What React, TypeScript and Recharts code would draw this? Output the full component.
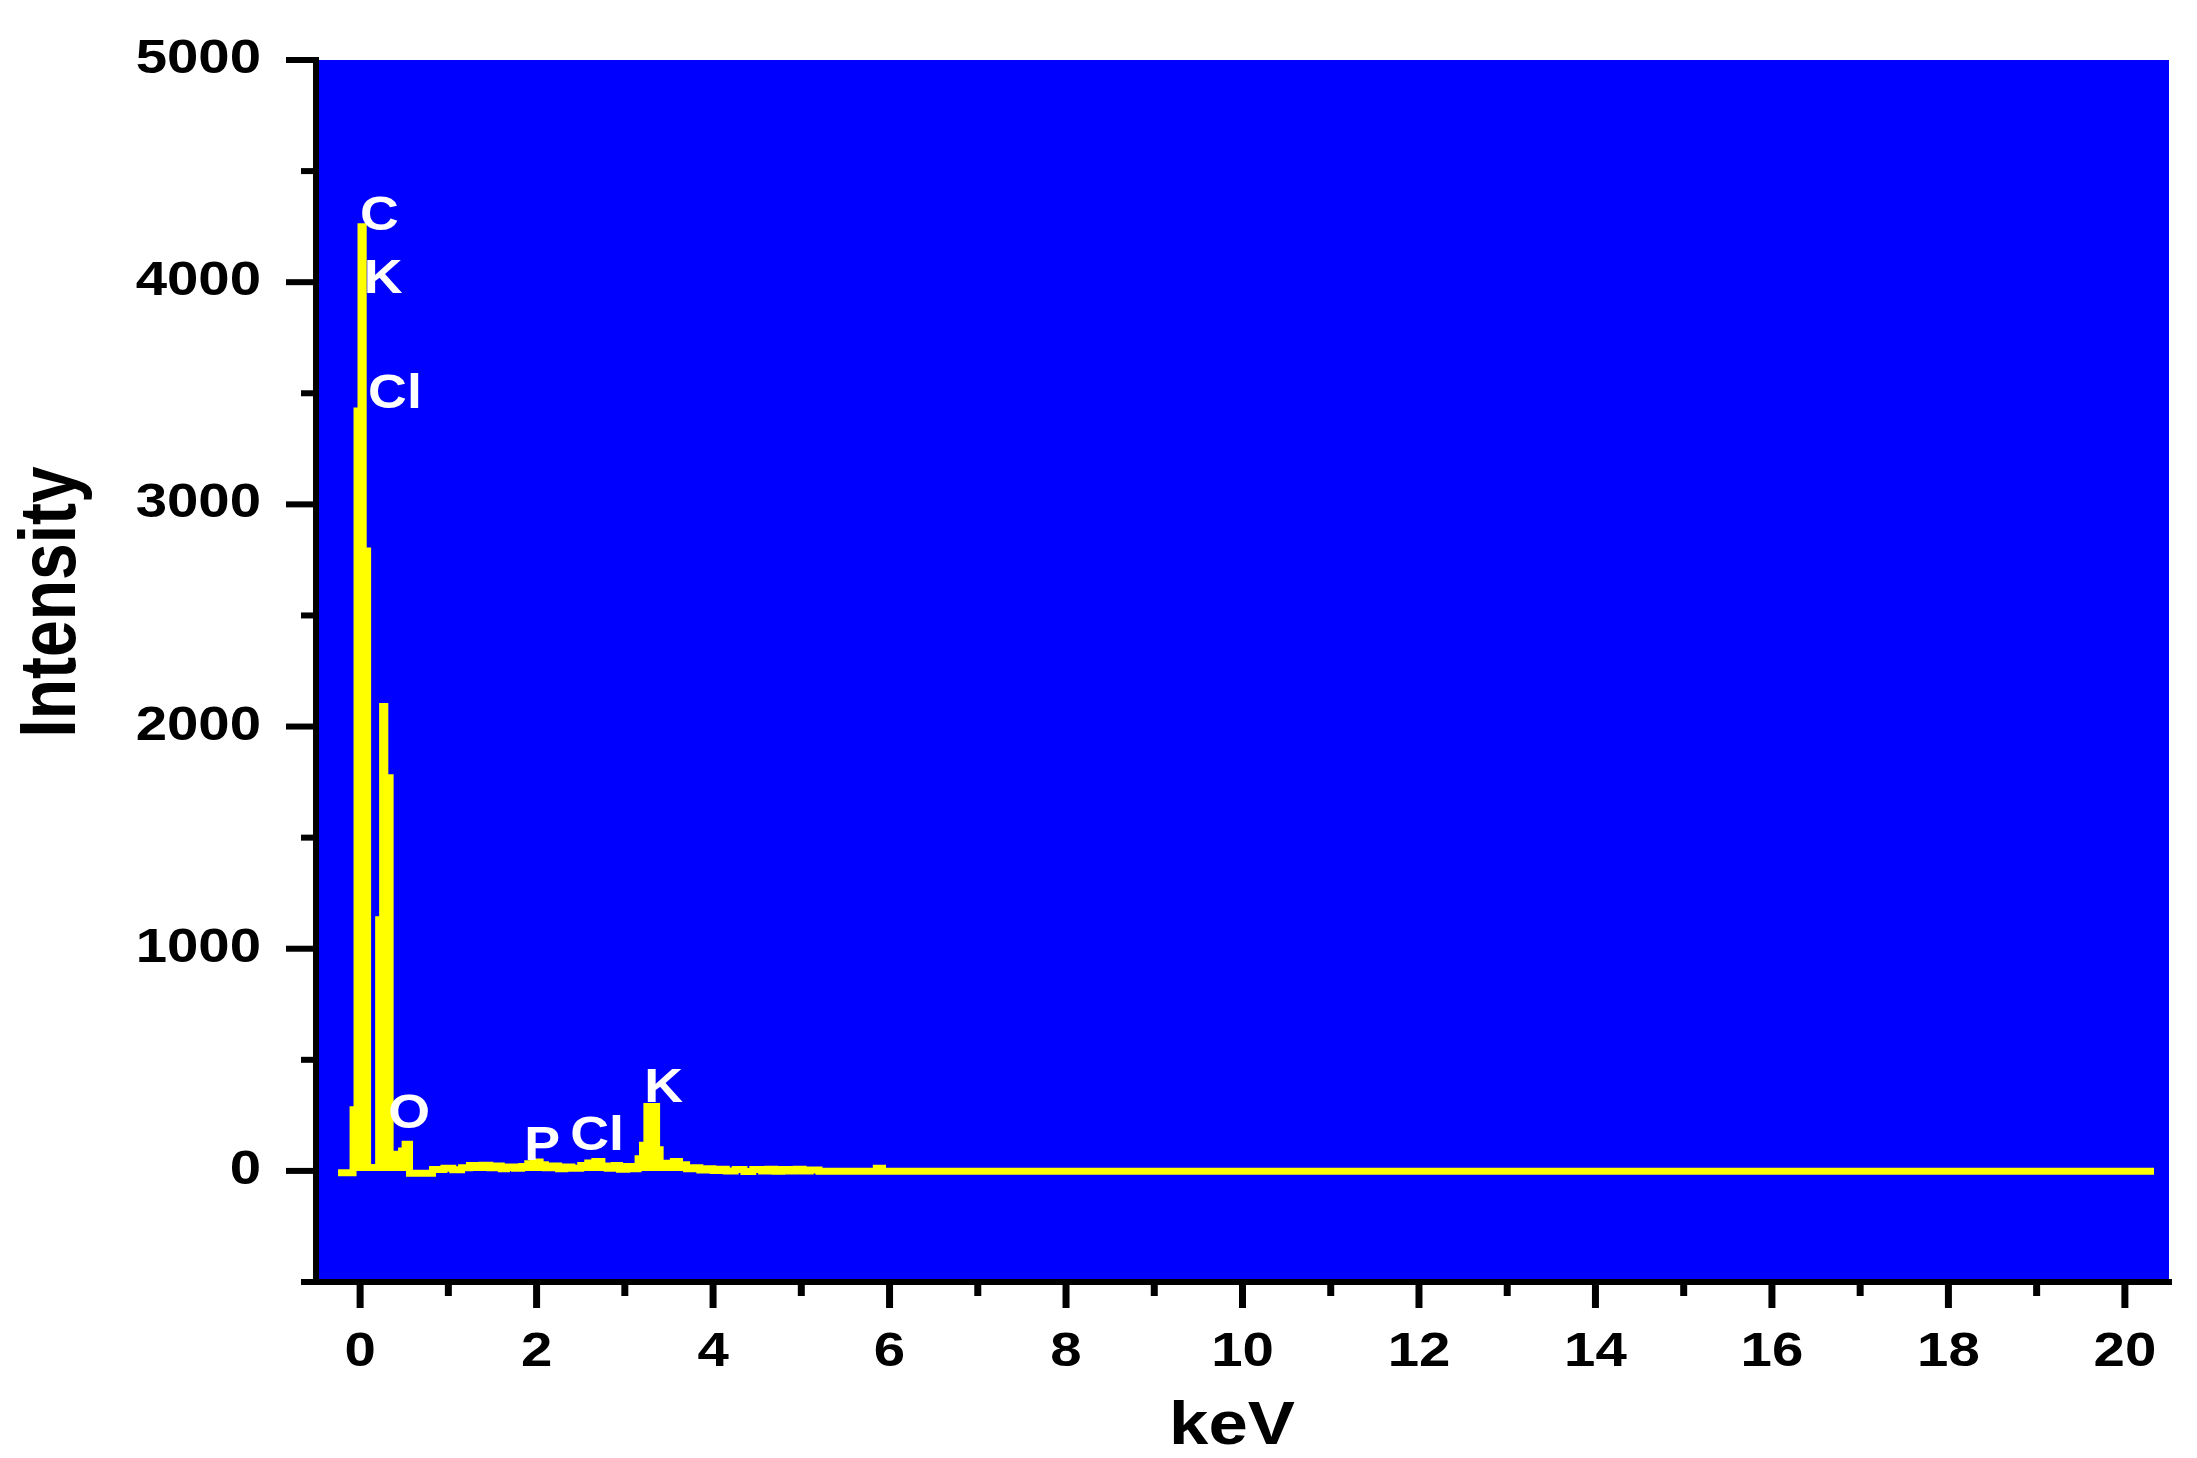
import React from "react";
import { AreaChart, Area, XAxis, YAxis, CartesianGrid, ReferenceDot } from "recharts";

// EDS spectrum (keV, counts), drawn as steps
const energyKeV = [
  -0.25, -0.08, -0.035, 0.01, 0.035, 0.085, 0.21, 0.255, 0.28, 0.34,
  0.40, 0.44, 0.47, 0.51, 0.56, 0.82, 0.95, 1.05, 1.15, 1.24,
  1.32, 1.38, 1.47, 1.52, 1.60, 1.66, 1.75, 1.83, 1.90, 1.96,
  2.04, 2.10, 2.18, 2.25, 2.32, 2.40, 2.50, 2.58, 2.66, 2.74,
  2.80, 2.88, 2.94, 3.02, 3.08, 3.15, 3.20, 3.25, 3.36, 3.40,
  3.55, 3.62, 3.70, 3.78, 3.85, 3.92, 4.00, 4.08, 4.15, 4.25,
  4.35, 4.45, 4.55, 4.62, 4.70, 4.78, 4.86, 4.94, 5.02, 5.10,
  5.20, 5.85, 5.92, 20.33,
];
const counts = [
  -8, 275, 3420, 4250, 2790, 15, 1130, 2090, 1770, 25,
  75, 15, 90, 120, -10, 6, 12, 5, 14, 24,
  18, 26, 14, 22, 10, 18, 12, 20, 32, 40,
  28, 14, 22, 10, 18, 12, 24, 36, 42, 22,
  12, 24, 8, 20, 10, 55, 115, 290, 95, 35,
  42, 28, 10, 14, 4, 10, 2, 8, 0, 6,
  -3, 6, 0, 8, -2, 6, 0, 8, 0, 4,
  -2, 12, -2, -2,
];

const xTicks = [0, 1, 2, 3, 4, 5, 6, 7, 8, 9, 10, 11, 12, 13, 14, 15, 16, 17, 18, 19, 20];
const yTicks = [-500, 0, 500, 1000, 1500, 2000, 2500, 3000, 3500, 4000, 4500, 5000];

// element labels: name, left edge (keV), baseline (counts)
const peakNames = ["C", "K", "Cl", "O", "P", "Cl", "K"];
const peakKeV = [0.0, 0.04, 0.09, 0.32, 1.86, 2.38, 3.22];
const peakCounts = [4235, 3950, 3435, 195, 48, 94, 311];

const spectrum = energyKeV.map((e, i) => ({ kev: e, counts: counts[i] }));

const FONT = "'Liberation Sans', Arial, sans-serif";
const W = 2197;
const H = 1458;
const PLOT = { left: 316, right: 2169, top: 60, bottom: 1282 };
const Y_AXIS_W = 200;
const X_AXIS_H = 120;

function XTick({ x, y, payload }: any) {
  const v = payload.value;
  const major = v % 2 === 0;
  return (
    <g>
      <line x1={x} x2={x} y1={y} y2={y + (major ? 26 : 14)} stroke="#000" strokeWidth={7} />
      {major && (
        <text
          transform={`translate(${x},${y + 84}) scale(1.15,1)`}
          textAnchor="middle"
          fontFamily={FONT}
          fontWeight={700}
          fontSize={49}
          fill="#000"
        >
          {v}
        </text>
      )}
    </g>
  );
}

function YTick({ x, y, payload }: any) {
  const v = payload.value;
  const major = v % 1000 === 0;
  return (
    <g>
      <line x1={x} x2={x - (major ? 30 : 15)} y1={y} y2={y} stroke="#000" strokeWidth={6} />
      {major && v >= 0 && (
        <text
          transform={`translate(${PLOT.left - 55},${y + 13}) scale(1.15,1)`}
          textAnchor="end"
          fontFamily={FONT}
          fontWeight={700}
          fontSize={49}
          fill="#000"
        >
          {v}
        </text>
      )}
    </g>
  );
}

function PeakLabel(name: string) {
  return (props: any) => (
    <text
      transform={`translate(${props.cx},${props.cy}) scale(1.12,1)`}
      textAnchor="start"
      fontFamily={FONT}
      fontWeight={700}
      fontSize={48}
      fill="#FFFFFF"
    >
      {name}
    </text>
  );
}

const frameLine = { stroke: "#000", strokeWidth: 6, strokeLinecap: "square" as const };

export default function App() {
  return (
    <div style={{ position: "absolute", left: 0, top: 0, width: W, height: H, background: "#fff" }}>
      <AreaChart
        width={W}
        height={H}
        data={spectrum}
        margin={{
          top: PLOT.top,
          right: W - PLOT.right,
          left: PLOT.left - Y_AXIS_W,
          bottom: H - PLOT.bottom - X_AXIS_H,
        }}
      >
        <CartesianGrid fill="#0000FF" horizontal={false} vertical={false} />
        <XAxis
          dataKey="kev"
          type="number"
          domain={[-0.5, 20.5]}
          ticks={xTicks}
          interval={0}
          allowDataOverflow
          height={X_AXIS_H}
          tickSize={0}
          tickMargin={0}
          tickLine={false}
          axisLine={frameLine}
          tick={<XTick />}
          label={{
            content: () => (
              <text
                transform={`translate(1232,1444) scale(1.14,1)`}
                textAnchor="middle"
                fontFamily={FONT}
                fontWeight={700}
                fontSize={62}
                fill="#000"
              >
                keV
              </text>
            ),
          }}
        />
        <XAxis
          xAxisId="top"
          orientation="top"
          type="number"
          domain={[-0.5, 20.5]}
          allowDataOverflow
          height={0}
          tick={false}
          tickLine={false}
          axisLine={frameLine}
        />
        <YAxis
          type="number"
          domain={[-500, 5000]}
          ticks={yTicks}
          interval={0}
          allowDataOverflow
          width={Y_AXIS_W}
          tickSize={0}
          tickMargin={0}
          tickLine={false}
          axisLine={frameLine}
          tick={<YTick />}
          label={{
            content: () => (
              <text
                transform={`translate(75,602) scale(1.2,1) rotate(-90)`}
                textAnchor="middle"
                fontFamily={FONT}
                fontWeight={700}
                fontSize={66}
                fill="#000"
              >
                Intensity
              </text>
            ),
          }}
        />
        <YAxis
          yAxisId="right"
          orientation="right"
          type="number"
          domain={[-500, 5000]}
          allowDataOverflow
          width={0}
          tick={false}
          tickLine={false}
          axisLine={frameLine}
        />
        <Area
          type="stepAfter"
          dataKey="counts"
          stroke="#FFFF00"
          strokeWidth={7}
          fill="#FFFF00"
          fillOpacity={1}
          dot={false}
          activeDot={false}
          isAnimationActive={false}
        />
        {peakNames.map((name, i) => (
          <ReferenceDot
            key={i}
            x={peakKeV[i]}
            y={peakCounts[i]}
            r={0}
            shape={PeakLabel(name)}
          />
        ))}
      </AreaChart>
    </div>
  );
}
